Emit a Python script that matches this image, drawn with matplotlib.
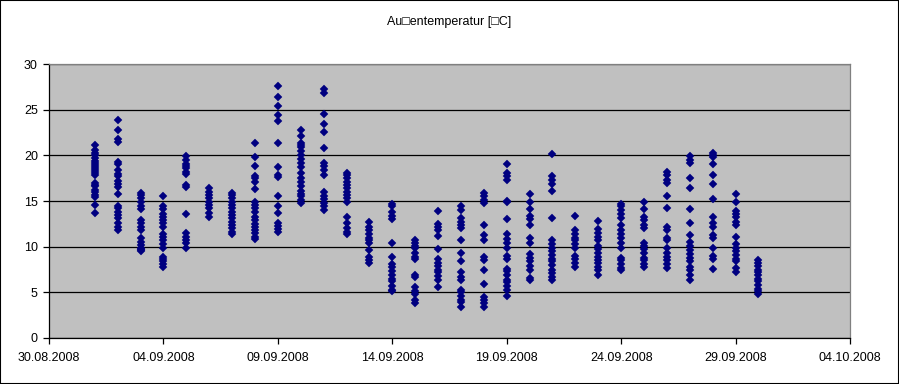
#!/usr/bin/env python3

import datetime as dt
import matplotlib
matplotlib.use("Agg")
import matplotlib.pyplot as plt
import matplotlib.dates as mdates
from matplotlib.patches import Rectangle

# hourly outside temperatures, one list per day (September 2008)
sep01 = [21.1, 20.6, 20.3, 20.0, 19.7, 19.4, 19.2, 18.9, 18.7, 18.5, 18.3, 18.1,
         17.8, 17.0, 16.8, 16.6, 16.2, 16.0, 15.7, 15.4, 14.6, 13.7]
sep02 = [23.9, 22.8, 21.8, 21.5, 19.3, 19.1, 18.4, 18.0, 17.7, 17.2, 16.9, 16.5,
         15.8, 14.5, 14.2, 13.8, 13.5, 13.1, 12.6, 12.2, 11.8]
sep03 = [15.9, 15.7, 15.3, 14.9, 14.4, 14.1, 12.9, 12.6, 12.2, 11.8, 10.9, 10.5,
         10.2, 9.9, 9.7, 9.6, 9.5]
sep04 = [15.5, 14.5, 14.1, 13.6, 13.3, 12.9, 12.6, 12.2, 11.4, 11.1, 10.7, 10.3,
         9.9, 8.9, 8.6, 8.4, 8.1, 7.8]
sep05 = [19.9, 19.5, 19.1, 18.8, 18.6, 18.2, 18.0, 16.8, 16.5, 13.6, 11.5, 11.1,
         10.7, 10.4, 9.8]
sep06 = [16.4, 16.0, 15.7, 15.3, 14.9, 14.6, 14.2, 13.7, 13.3]
sep07 = [15.9, 15.7, 15.3, 14.9, 14.6, 14.2, 13.8, 13.5, 13.1, 12.7, 12.4, 12.0,
         11.6, 11.4]
sep08 = [21.3, 19.8, 18.8, 17.7, 17.5, 17.1, 16.3, 14.9, 14.6, 14.2, 13.8, 13.3,
         12.9, 12.5, 12.2, 11.8, 11.5, 11.1, 10.8]
sep09 = [27.6, 26.4, 25.4, 24.4, 23.8, 21.4, 18.7, 17.8, 17.6, 15.5, 14.5, 13.7,
         12.6, 12.3, 11.9, 11.6]
sep10 = [22.8, 22.1, 21.4, 21.1, 20.9, 20.5, 20.0, 19.6, 19.2, 18.7, 18.1, 17.5,
         17.1, 16.6, 16.1, 15.8, 15.5, 15.1, 14.8]
sep11 = [27.3, 26.8, 24.5, 23.4, 22.6, 20.8, 19.2, 18.8, 18.4, 17.8, 16.0, 15.5,
         15.2, 14.8, 14.5, 14.0]
sep12 = [18.1, 17.8, 17.5, 17.1, 16.8, 16.4, 16.0, 15.7, 15.3, 14.9, 13.2, 12.6,
         12.0, 11.6, 11.4]
sep13 = [12.7, 12.1, 11.8, 11.4, 11.0, 10.7, 10.4, 9.6, 8.9, 8.5, 8.2]
sep14 = [14.7, 14.5, 13.8, 13.4, 13.0, 10.4, 8.9, 8.1, 7.8, 7.3, 6.9, 6.5, 6.2,
         5.7, 5.3, 5.1]
sep15 = [10.7, 10.4, 10.1, 9.8, 9.3, 8.9, 8.6, 6.9, 6.7, 5.6, 5.1, 4.8, 4.2, 3.8]
sep16 = [13.9, 12.5, 12.1, 11.8, 11.2, 9.7, 8.6, 8.2, 7.9, 7.5, 7.2, 6.8, 6.4, 5.6]
sep17 = [14.5, 14.0, 13.1, 12.7, 12.4, 12.0, 10.7, 9.3, 8.4, 7.2, 6.7, 6.4, 5.3,
         5.0, 4.6, 4.2, 3.9, 3.4]
sep18 = [15.9, 15.5, 15.1, 14.8, 12.4, 11.3, 10.7, 8.9, 8.5, 7.4, 5.9, 4.5, 4.2,
         3.8, 3.4]
sep19 = [19.1, 18.1, 17.7, 17.3, 15.0, 14.9, 13.0, 11.4, 10.8, 10.4, 9.9, 9.0,
         8.7, 7.6, 7.3, 6.9, 6.4, 6.1, 5.7, 5.3, 4.6]
sep20 = [15.8, 14.9, 14.1, 13.4, 13.0, 12.4, 11.0, 10.4, 9.2, 8.8, 8.4, 7.9, 7.4,
         6.6, 6.3]
sep21 = [20.1, 17.7, 17.3, 16.9, 16.1, 13.1, 10.7, 10.3, 9.8, 9.5, 9.1, 8.7, 8.4,
         8.0, 7.4, 7.1, 6.7, 6.4]
sep22 = [13.4, 11.8, 11.4, 11.0, 10.7, 10.3, 9.9, 9.0, 8.6, 8.2, 7.8]
sep23 = [12.8, 11.9, 11.5, 11.1, 10.7, 10.1, 9.7, 9.3, 8.9, 8.5, 8.2, 7.8, 7.4, 6.9]
sep24 = [14.7, 14.4, 14.0, 13.6, 13.1, 12.4, 11.8, 11.4, 10.9, 10.4, 9.9, 8.8,
         8.5, 8.1, 7.7, 7.4]
sep25 = [14.9, 14.1, 13.3, 12.9, 12.4, 12.0, 10.4, 10.1, 9.7, 9.3, 8.8, 8.5, 8.1, 7.8]
sep26 = [18.2, 17.8, 17.3, 17.0, 15.5, 14.2, 12.1, 11.8, 11.0, 10.7, 9.9, 9.3,
         8.9, 8.5, 8.1, 7.7]
sep27 = [19.9, 19.5, 19.2, 17.5, 16.4, 14.1, 12.6, 11.3, 10.5, 10.1, 9.6, 9.2,
         8.8, 8.4, 7.8, 7.4, 6.9, 6.4]
sep28 = [20.3, 20.0, 19.8, 19.1, 17.9, 16.9, 15.2, 13.2, 12.6, 12.1, 11.3, 10.9,
         9.9, 9.0, 8.6, 7.6]
sep29 = [15.8, 14.9, 13.9, 13.6, 13.2, 12.7, 12.4, 11.1, 10.3, 9.8, 9.5, 9.1,
         8.7, 8.4, 7.7, 7.2]
sep30 = [8.5, 8.2, 7.9, 7.5, 7.2, 6.9, 6.5, 6.2, 5.8, 5.4, 5.1, 4.8]

daily = [sep01, sep02, sep03, sep04, sep05, sep06, sep07, sep08, sep09, sep10,
         sep11, sep12, sep13, sep14, sep15, sep16, sep17, sep18, sep19, sep20,
         sep21, sep22, sep23, sep24, sep25, sep26, sep27, sep28, sep29, sep30]
first_day = dt.datetime(2008, 9, 1)

title = "Au\u25a1entemperatur [\u25a1C]"
y_ticks = [0, 5, 10, 15, 20, 25, 30]

plt.rcParams["font.family"] = ["Liberation Sans", "DejaVu Sans"]

fig = plt.figure(figsize=(8.99, 3.84), dpi=100)
ax = fig.add_axes([0.0545, 0.1198, 0.891, 0.7135])

xs, ys = [], []
for i, values in enumerate(daily):
    day = first_day + dt.timedelta(days=i)
    xs.extend([day] * len(values))
    ys.extend(values)

ax.set_facecolor("#C0C0C0")
ax.set_axisbelow(True)
ax.grid(axis="y", color="black", linewidth=0.9)
ax.plot(xs, ys, linestyle="none", marker="D", markersize=4.1,
        color="#000080", markeredgewidth=0.3, zorder=3)

ax.set_xlim(dt.datetime(2008, 8, 30), dt.datetime(2008, 10, 4))
ax.set_ylim(0, 30)
ax.set_yticks(y_ticks)
ax.set_xticks([dt.datetime(2008, 8, 30) + dt.timedelta(days=5 * k) for k in range(8)])
ax.xaxis.set_major_formatter(mdates.DateFormatter("%d.%m.%Y"))

ax.tick_params(axis="both", direction="out", length=4, width=0.9, labelsize=9,
               color="black", labelcolor="black")
ax.tick_params(axis="y", pad=4)
ax.tick_params(axis="x", pad=6)

for side in ("left", "bottom"):
    ax.spines[side].set_color("black")
    ax.spines[side].set_linewidth(0.9)
for side in ("top", "right"):
    ax.spines[side].set_color("#808080")
    ax.spines[side].set_linewidth(0.9)

fig.text(0.5, 0.943, title, ha="center", va="center", fontsize=9)

fig.add_artist(Rectangle((0, 0), 1, 1, transform=fig.transFigure, fill=False,
                         edgecolor="black", linewidth=1.5))

fig.savefig("out.png", dpi=100)
